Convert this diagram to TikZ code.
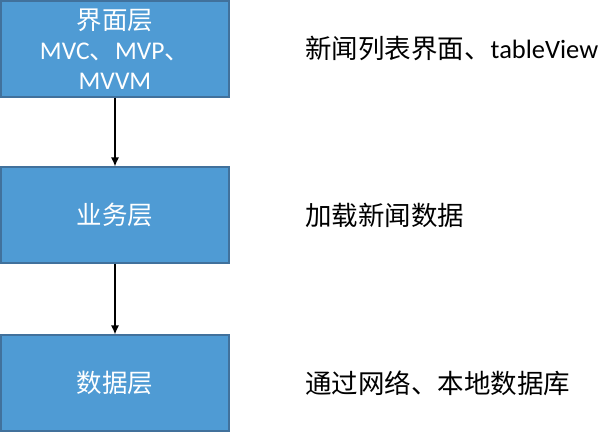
\documentclass[tikz,border=0pt]{standalone}
\usepackage{fontspec}
\usetikzlibrary{arrows.meta}
\setmainfont{Carlito}
\newfontfamily\cjk{Noto Sans CJK SC}
\begin{document}
\begin{tikzpicture}[x=1pt,y=-1pt,
  layer/.style={draw=boxborder,line width=1.2pt,fill=boxfill,text=white,minimum width=228pt,minimum height=96pt,inner sep=0pt,align=center,font=\fontsize{25.5}{30}\selectfont},
  note/.style={anchor=west,inner sep=0pt,font=\fontsize{26.5}{30}\selectfont},
  conn/.style={draw=black,line width=1.2pt,-{Latex[length=9pt,width=8pt]}}]
\definecolor{boxfill}{HTML}{4F9BD4}
\definecolor{boxborder}{HTML}{41719C}
\useasboundingbox (0,0) rectangle (599,433);
\node[layer] (ui) at (115,49) {{\cjk 界面层}\\MVC{\cjk 、}MVP{\cjk 、}\\MVVM};
\node[layer] (biz) at (115,215) {\cjk 业务层};
\node[layer] (data) at (115,383) {\cjk 数据层};
\draw[conn] (ui) -- (biz);
\draw[conn] (biz) -- (data);
\node[note] (n1) at (305,48) {{\cjk 新闻列表界面、}tableView};
\node[note] (n2) at (305,215) {\cjk 加载新闻数据};
\node[note] (n3) at (305,383) {\cjk 通过网络、本地数据库};
\end{tikzpicture}
\end{document}
